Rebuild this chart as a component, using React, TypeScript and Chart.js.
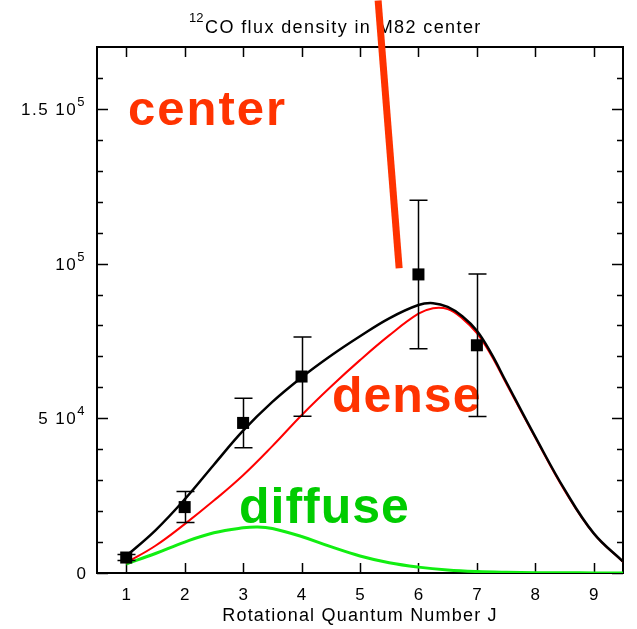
import React, { useEffect, useRef } from "react";
import { Chart, registerables } from "chart.js";

Chart.register(...registerables);

// ---- data ----
const curveX = [1, 1.5, 2, 2.5, 3, 3.5, 4, 4.5, 5, 5.5, 6, 6.25, 6.5, 6.75, 7, 7.25, 7.5, 8, 8.5, 9, 9.5];
const totalFlux = [5500, 13800, 23800, 35000, 46000, 55300, 63200, 70200, 76500, 82300, 86600, 87200, 86000, 83000, 78300, 70800, 61800, 44000, 27000, 12800, 3700];
const denseFlux = [3300, 8800, 15800, 23400, 31600, 41000, 51000, 60200, 68800, 76800, 83800, 85600, 85300, 82300, 77500, 70200, 61300, 43700, 26700, 12700, 3600];

const diffuseX = [1, 1.5, 2, 2.5, 3, 3.25, 3.5, 4, 4.5, 5, 5.5, 6, 6.5, 7, 7.5, 8, 8.5, 9, 9.5];
const diffuseFlux = [2900, 6300, 10000, 13000, 14600, 14900, 14400, 11800, 8500, 5500, 3300, 1900, 1000, 500, 250, 120, 60, 30, 15];

const obsJ = [1, 2, 3, 4, 6, 7];
const obsFlux = [5000, 21300, 48500, 63500, 96500, 73600];
const obsErr = [1000, 5000, 8000, 12800, 24000, 23000];

const pointerX = [5.31, 5.67];
const pointerY = [185000, 98500];

const xTickValues = [1, 2, 3, 4, 5, 6, 7, 8, 9];
const yTickValues = [0, 50000, 100000, 150000];
const yTickMantissa = ["0", "5 10", "10", "1.5 10"];
const yTickExponent = ["", "4", "5", "5"];
const yMinorTicks = [10000, 20000, 30000, 40000, 60000, 70000, 80000, 90000, 110000, 120000, 130000, 140000, 160000];

const titleSup = "12";
const titleMain = "CO flux density in M82 center";
const xTitle = "Rotational Quantum Number J";

const annLabels = ["center", "dense", "diffuse"];
const annX = [1.03, 4.52, 2.93];
const annY = [144700, 52000, 16150];
const annColors = ["#ff3300", "#ff3300", "#00cc00"];
const annSizes = [49, 50, 50];
const annSpacing = ["2px", "1px", "1px"];

const FONT = '"Liberation Sans", Arial, Helvetica, sans-serif';

const plotPlugin = {
  id: "plotDecor",
  beforeDatasetsDraw(chart: any) {
    const { ctx, chartArea: a, scales } = chart;
    const xs = scales.x;
    const ys = scales.y;
    ctx.save();
    // frame
    ctx.strokeStyle = "#000";
    ctx.lineWidth = 2;
    ctx.strokeRect(a.left, a.top, a.right - a.left, a.bottom - a.top);
    // ticks
    ctx.lineWidth = 1.5;
    ctx.beginPath();
    xTickValues.forEach((v) => {
      const px = Math.round(xs.getPixelForValue(v)) + 0.5;
      ctx.moveTo(px, a.bottom);
      ctx.lineTo(px, a.bottom - 10);
      ctx.moveTo(px, a.top);
      ctx.lineTo(px, a.top + 10);
    });
    yTickValues.forEach((v) => {
      const py = Math.round(ys.getPixelForValue(v)) + 0.5;
      ctx.moveTo(a.left, py);
      ctx.lineTo(a.left + 11, py);
      ctx.moveTo(a.right, py);
      ctx.lineTo(a.right - 11, py);
    });
    yMinorTicks.forEach((v) => {
      const py = Math.round(ys.getPixelForValue(v)) + 0.5;
      ctx.moveTo(a.left, py);
      ctx.lineTo(a.left + 6, py);
      ctx.moveTo(a.right, py);
      ctx.lineTo(a.right - 6, py);
    });
    ctx.stroke();

    // x tick labels
    ctx.fillStyle = "#000";
    ctx.font = `17px ${FONT}`;
    ctx.textAlign = "center";
    ctx.textBaseline = "alphabetic";
    xTickValues.forEach((v) => {
      ctx.fillText(String(v), xs.getPixelForValue(v), a.bottom + 27);
    });
    // x title
    (ctx as any).letterSpacing = "1.2px";
    ctx.font = `18px ${FONT}`;
    ctx.fillText(xTitle, (a.left + a.right) / 2, a.bottom + 48);

    // y tick labels
    (ctx as any).letterSpacing = "1.5px";
    const rightEdge = a.left - 11;
    yTickValues.forEach((v, i) => {
      const py = ys.getPixelForValue(v);
      ctx.font = `13px ${FONT}`;
      const exp = yTickExponent[i];
      const ew = exp ? ctx.measureText(exp).width : 0;
      if (exp) {
        ctx.textAlign = "left";
        ctx.fillText(exp, rightEdge - ew, py - 3);
      }
      ctx.font = `17px ${FONT}`;
      ctx.textAlign = "right";
      ctx.fillText(yTickMantissa[i], rightEdge - ew - (exp ? 0 : -1.5), py + 6);
    });

    // title
    ctx.textAlign = "left";
    (ctx as any).letterSpacing = "0px";
    ctx.font = `13px ${FONT}`;
    ctx.fillText(titleSup, a.left + 92, a.top - 25);
    (ctx as any).letterSpacing = "1.4px";
    ctx.font = `18px ${FONT}`;
    ctx.fillText(titleMain, a.left + 108, a.top - 14);

    // annotation words
    annLabels.forEach((t, i) => {
      (ctx as any).letterSpacing = annSpacing[i];
      ctx.font = `bold ${annSizes[i]}px ${FONT}`;
      ctx.fillStyle = annColors[i];
      ctx.fillText(t, xs.getPixelForValue(annX[i]), ys.getPixelForValue(annY[i]));
    });
    ctx.restore();
  },
  afterDatasetsDraw(chart: any) {
    const { ctx, scales } = chart;
    const xs = scales.x;
    const ys = scales.y;
    ctx.save();
    ctx.strokeStyle = "#000";
    ctx.lineWidth = 1.5;
    ctx.beginPath();
    obsJ.forEach((j, i) => {
      const px = Math.round(xs.getPixelForValue(j)) + 0.5;
      const top = ys.getPixelForValue(obsFlux[i] + obsErr[i]);
      const bot = ys.getPixelForValue(obsFlux[i] - obsErr[i]);
      ctx.moveTo(px, top);
      ctx.lineTo(px, bot);
      ctx.moveTo(px - 9, top);
      ctx.lineTo(px + 9, top);
      ctx.moveTo(px - 9, bot);
      ctx.lineTo(px + 9, bot);
    });
    ctx.stroke();
    ctx.restore();
  },
};

export default function App() {
  const ref = useRef<HTMLCanvasElement | null>(null);
  useEffect(() => {
    if (!ref.current) return;
    const chart = new Chart(ref.current, {
      type: "line",
      data: {
        datasets: [
          {
            type: "scatter",
            data: obsJ.map((x, i) => ({ x, y: obsFlux[i] })),
            pointStyle: "rect",
            pointRadius: 8.5,
            backgroundColor: "#000",
            borderWidth: 0,
            showLine: false,
            order: 0,
          } as any,
          {
            data: pointerX.map((x, i) => ({ x, y: pointerY[i] })),
            borderColor: "#ff3300",
            borderWidth: 7,
            pointRadius: 0,
            clip: false,
            order: 1,
          } as any,
          {
            data: curveX.map((x, i) => ({ x, y: totalFlux[i] })),
            borderColor: "#000",
            borderWidth: 2.5,
            pointRadius: 0,
            tension: 0.4,
            order: 2,
          } as any,
          {
            data: curveX.map((x, i) => ({ x, y: denseFlux[i] })),
            borderColor: "#ff0000",
            borderWidth: 2,
            pointRadius: 0,
            tension: 0.4,
            order: 3,
          } as any,
          {
            data: diffuseX.map((x, i) => ({ x, y: diffuseFlux[i] })),
            borderColor: "#11ee11",
            borderWidth: 3,
            pointRadius: 0,
            tension: 0.4,
            order: 4,
          } as any,
        ],
      },
      options: {
        responsive: false,
        animation: false,
        devicePixelRatio: 1,
        events: [],
        layout: { padding: { left: 97, right: 14, top: 47, bottom: 56 } },
        plugins: {
          legend: { display: false },
          tooltip: { enabled: false },
          title: { display: false },
        },
        scales: {
          x: { type: "linear", min: 0.5, max: 9.5, display: false },
          y: { type: "linear", min: 0, max: 170000, display: false },
        },
      } as any,
      plugins: [plotPlugin],
    });
    return () => chart.destroy();
  }, []);
  return (
    <div style={{ position: "fixed", left: 0, top: 0, width: 637, height: 629, background: "#fff" }}>
      <canvas ref={ref} width={637} height={629} style={{ display: "block" }} />
    </div>
  );
}
